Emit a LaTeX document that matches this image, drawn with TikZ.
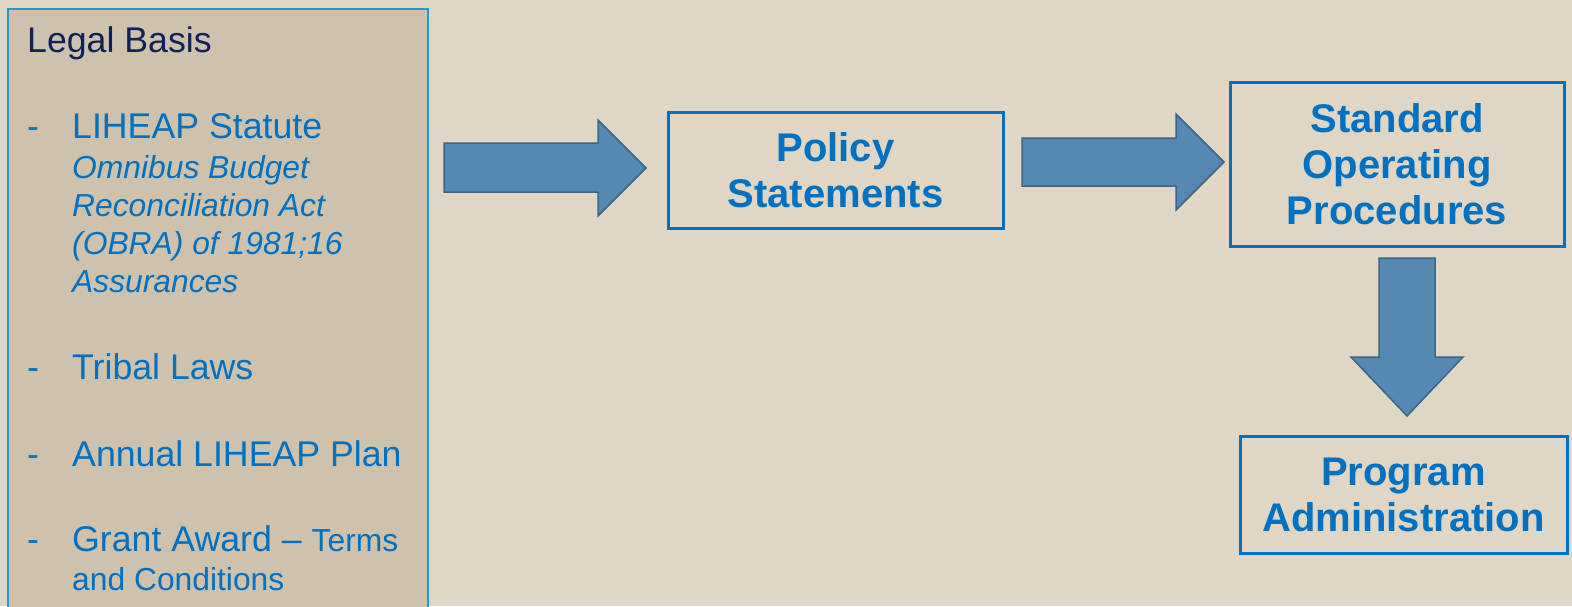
\documentclass[tikz,border=0pt]{standalone}
\usepackage{fontspec}
\setmainfont{Liberation Sans}
\definecolor{pagebg}{HTML}{DFD6C5}
\definecolor{panelfill}{HTML}{CEC2AD}
\definecolor{panelline}{HTML}{1C9DD2}
\definecolor{navy}{HTML}{10215A}
\definecolor{itemblue}{HTML}{0070C0}
\definecolor{arrowfill}{HTML}{5589B1}
\definecolor{arrowline}{HTML}{3E6484}
\tikzset{
  box/.style={draw=itemblue, line width=3pt, fill=none, align=center,
    text=itemblue, inner sep=0pt,
    font=\bfseries\fontsize{40}{46}\selectfont},
  blockarrow/.style={fill=arrowfill, draw=arrowline, line width=1.5pt, line join=miter},
  item/.style={anchor=base west, inner sep=0pt, text=itemblue,
    font=\fontsize{35.7}{40}\selectfont},
  subitem/.style={anchor=base west, inner sep=0pt, text=itemblue,
    font=\itshape\fontsize{31.8}{38}\selectfont},
}
\begin{document}
\begin{tikzpicture}[x=1pt, y=-1pt]
  \clip (0,0) rectangle (1572,606);
  \fill[pagebg] (0,0) rectangle (1572,606);

  % left panel: legal basis
  \node[draw=panelline, line width=2pt, fill=panelfill, inner sep=0pt,
        minimum width=420pt, minimum height=620pt, anchor=north west]
        (legal) at (7,8) {};
  \node[item, text=navy] (title) at (27,52) {Legal Basis};

  \node[item] (d1) at (27,138) {-};
  \node[item] (i1) at (72,138) {LIHEAP Statute};
  \node[subitem] (s1) at (72,178) {Omnibus Budget};
  \node[subitem] (s2) at (72,216) {Reconciliation Act};
  \node[subitem] (s3) at (72,254) {(OBRA) of 1981;16};
  \node[subitem] (s4) at (72,292) {Assurances};

  \node[item] (d2) at (27,379) {-};
  \node[item] (i2) at (72,379) {Tribal Laws};

  \node[item] (d3) at (27,466) {-};
  \node[item] (i3) at (72,466) {Annual LIHEAP Plan};

  \node[item] (d4) at (27,551) {-};
  \node[item] (i4) at (72,551) {Grant Award -- {\fontsize{31.8}{38}\selectfont Terms}};
  \node[subitem, font=\fontsize{31.8}{38}\selectfont] (i4b) at (72,590) {and Conditions};

  % flow boxes
  \node[box, minimum width=335pt, minimum height=116pt] (policy) at (835.5,170)
        {Policy\\Statements};
  \node[box, minimum width=334pt, minimum height=164pt] (sop) at (1397,164)
        {Standard\\Operating\\Procedures};
  \node[box, minimum width=327pt, minimum height=117pt] (admin) at (1403.5,494.5)
        {Program\\Administration};

  % block arrows between the stages
  \draw[blockarrow] (444,143) -- (598,143) -- (598,120) -- (646,168)
        -- (598,216) -- (598,192) -- (444,192) -- cycle;
  \draw[blockarrow] (1022,138) -- (1176,138) -- (1176,114) -- (1224,162)
        -- (1176,210) -- (1176,186) -- (1022,186) -- cycle;
  \draw[blockarrow] (1379,258) -- (1435,258) -- (1435,357) -- (1463,357)
        -- (1407,416) -- (1351,357) -- (1379,357) -- cycle;
\end{tikzpicture}
\end{document}
